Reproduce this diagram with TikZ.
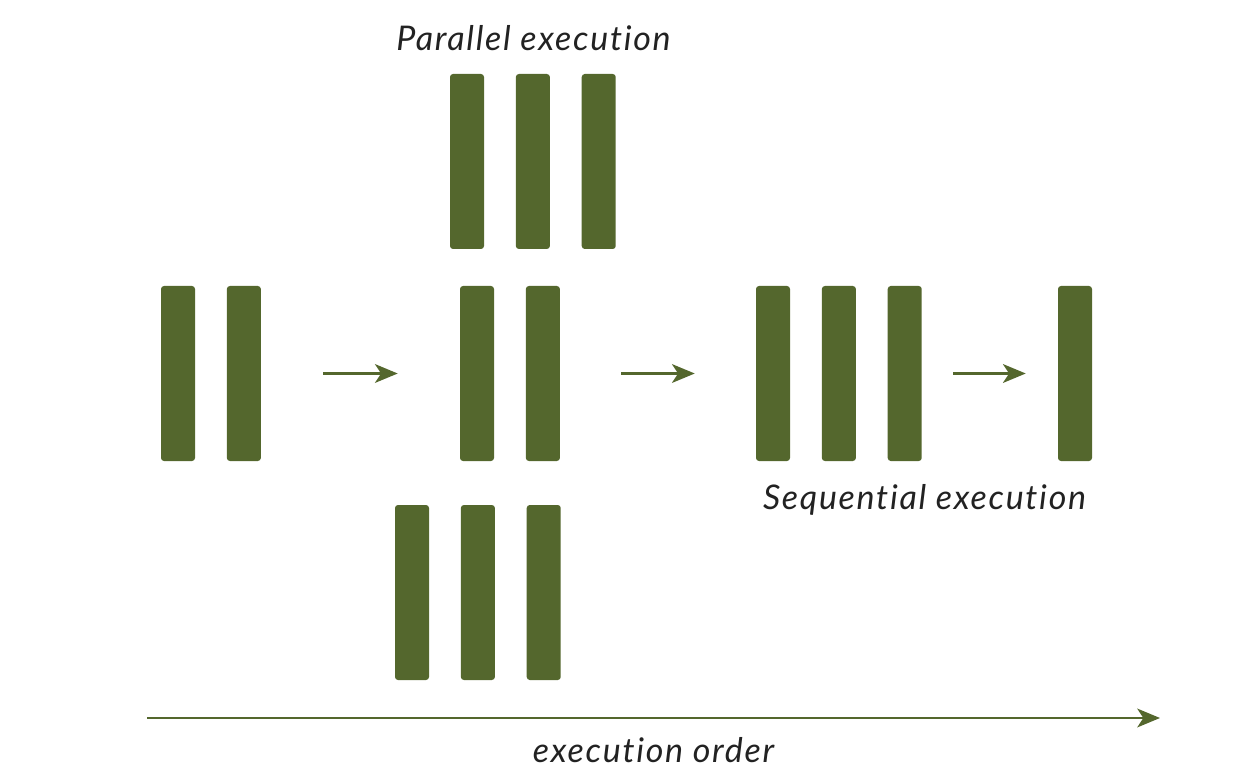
\documentclass[tikz,border=0pt]{standalone}
\usepackage{fontspec}
\newfontfamily\captionfont[LetterSpace=5,Ligatures=NoCommon]{Lato}
\usepackage{xcolor}
\usetikzlibrary{positioning}
\usetikzlibrary{arrows.meta}
\definecolor{bargreen}{RGB}{84,103,45}
\definecolor{labelgray}{RGB}{34,34,34}
\tikzset{
  bar/.style={
    fill=bargreen,
    draw=none,
    rounded corners=2.25pt,
    minimum width=25.5pt,
    minimum height=131.25pt,
    inner sep=0pt,
  },
  flow/.style={
    draw=bargreen,
    line width=2.2pt,
    -{Stealth[length=17pt,width=14pt,inset=4.5pt]},
  },
  caption/.style={
    text=labelgray,
    font=\captionfont\itshape\fontsize{25.5}{29}\selectfont,
  }
}
\begin{document}
\begin{tikzpicture}[x=0.75pt,y=-0.75pt,node distance=23.5pt]
    \useasboundingbox (0,0) rectangle (1260,784);

    % first group
    \node [bar] (a1) at (178,373.5) {};
    \node [bar, right=of a1] (a2) {};

    % parallel group
    \node [bar] (p1) at (467,161.5) {};
    \node [bar, right=of p1] (p2) {};
    \node [bar, right=of p2] (p3) {};

    \node [bar] (m1) at (477,373.5) {};
    \node [bar, right=of m1] (m2) {};

    \node [bar] (q1) at (412,592.5) {};
    \node [bar, right=of q1] (q2) {};
    \node [bar, right=of q2] (q3) {};

    % sequential group
    \node [bar] (s1) at (773,373.5) {};
    \node [bar, right=of s1] (s2) {};
    \node [bar, right=of s2] (s3) {};

    \node [bar] (e1) at (1075,373.5) {};

    \draw [flow, shorten <=46.5pt, shorten >=46.5pt] (a2) -- (m1);
    \draw [flow, shorten <=45.75pt, shorten >=45.75pt] (m2) -- (s1);
    \draw [flow, shorten <=23.25pt, shorten >=24pt] (s3) -- (e1);

    % time axis
    \coordinate (t0) at (147,718);
    \coordinate (t1) at (1160,718);
    \draw [flow] (t0) -- (t1);

    \node [caption] (ptext) at (533.5,38) {Parallel execution};
    \node [caption] (stext) at (924.5,500) {Sequential execution};
    \node [caption] (otext) at (653.5,750) {execution order};
\end{tikzpicture}
\end{document}
